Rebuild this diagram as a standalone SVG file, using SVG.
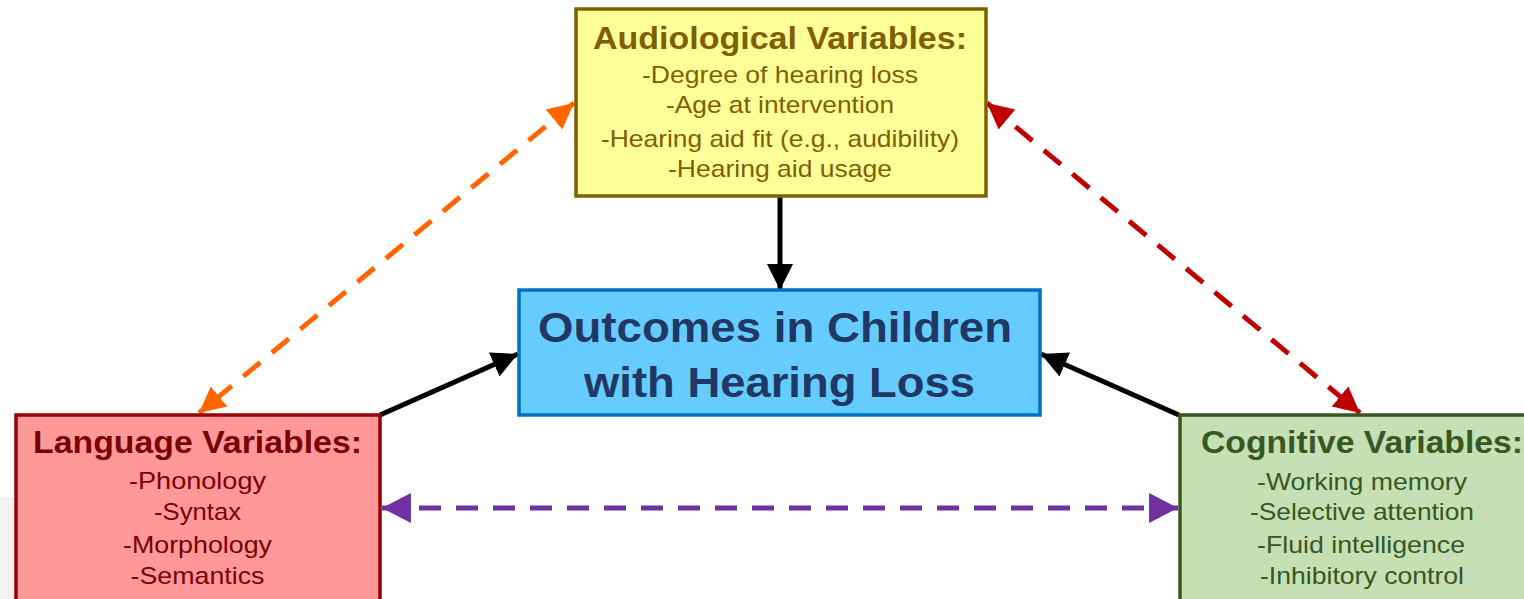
<svg xmlns="http://www.w3.org/2000/svg" width="1524" height="599" viewBox="0 0 1524 599">
<style>
text{font-family:"Liberation Sans",Arial,sans-serif;text-anchor:middle}
.t{font-weight:bold;font-size:31px}
.b{font-size:24px}
.box{stroke-width:3.5}
.ln{fill:none;stroke-width:5}
.d{stroke-dasharray:22 15}
</style>
<defs>
<marker id="ak" markerUnits="userSpaceOnUse" markerWidth="28" markerHeight="28" refX="26" refY="13" orient="auto-start-reverse" viewBox="0 0 28 26"><path d="M0,0 L26,13 L0,26 z" fill="#000"/></marker>
<marker id="ao" markerUnits="userSpaceOnUse" markerWidth="28" markerHeight="28" refX="26" refY="13" orient="auto-start-reverse" viewBox="0 0 28 26"><path d="M0,0 L26,13 L0,26 z" fill="#ff6600"/></marker>
<marker id="ar" markerUnits="userSpaceOnUse" markerWidth="28" markerHeight="28" refX="26" refY="13" orient="auto-start-reverse" viewBox="0 0 28 26"><path d="M0,0 L26,13 L0,26 z" fill="#c00000"/></marker>
<marker id="ap" markerUnits="userSpaceOnUse" markerWidth="30" markerHeight="30" refX="27" refY="14" orient="auto-start-reverse" viewBox="0 0 28 28"><path d="M0,0 L27,14 L0,28 z" fill="#7030a0"/></marker>
</defs>
<rect x="0" y="0" width="1524" height="599" fill="#ffffff"/>
<rect x="0" y="497" width="15" height="102" fill="#f2f2f2"/>

<g id="connectors">
<line class="ln d" x1="574" y1="103" x2="199" y2="413" stroke="#ff6600" marker-start="url(#ao)" marker-end="url(#ao)"/>
<line class="ln d" x1="987" y1="103" x2="1360" y2="413" stroke="#c00000" marker-start="url(#ar)" marker-end="url(#ar)"/>
<line class="ln d" x1="382" y1="508" x2="1178" y2="508" stroke="#7030a0" marker-start="url(#ap)" marker-end="url(#ap)"/>
<line class="ln" x1="780" y1="197" x2="780" y2="290" stroke="#000" marker-end="url(#ak)"/>
<line class="ln" x1="380" y1="415" x2="518" y2="354" stroke="#000" marker-end="url(#ak)"/>
<line class="ln" x1="1179" y1="415" x2="1041" y2="354" stroke="#000" marker-end="url(#ak)"/>
</g>

<g id="audiological">
<rect class="box" x="576" y="9" width="410" height="187" fill="#ffff99" stroke="#7f6000"/>
<g fill="#7f6000">
<text class="t" x="780" y="49" textLength="374" lengthAdjust="spacingAndGlyphs">Audiological Variables:</text>
<text class="b" x="780" y="83" textLength="276" lengthAdjust="spacingAndGlyphs">-Degree of hearing loss</text>
<text class="b" x="780" y="113" textLength="228" lengthAdjust="spacingAndGlyphs">-Age at intervention</text>
<text class="b" x="780" y="147" textLength="358" lengthAdjust="spacingAndGlyphs">-Hearing aid fit (e.g., audibility)</text>
<text class="b" x="780" y="177" textLength="224" lengthAdjust="spacingAndGlyphs">-Hearing aid usage</text>
</g>
</g>

<g id="outcomes">
<rect class="box" x="519" y="290" width="521" height="125" fill="#66ccff" stroke="#0070c0"/>
<g fill="#1f3864" font-weight="bold" font-size="43">
<text x="775" y="342" textLength="474" lengthAdjust="spacingAndGlyphs">Outcomes in Children</text>
<text x="779.5" y="397" textLength="391" lengthAdjust="spacingAndGlyphs">with Hearing Loss</text>
</g>
</g>

<g id="language">
<rect class="box" x="16" y="415" width="364" height="200" fill="#ff9999" stroke="#990000"/>
<g fill="#7b0000">
<text class="t" x="197.5" y="453" textLength="329" lengthAdjust="spacingAndGlyphs">Language Variables:</text>
<text class="b" x="197.5" y="489" textLength="137" lengthAdjust="spacingAndGlyphs">-Phonology</text>
<text class="b" x="197.5" y="520" textLength="87" lengthAdjust="spacingAndGlyphs">-Syntax</text>
<text class="b" x="197.5" y="553" textLength="149" lengthAdjust="spacingAndGlyphs">-Morphology</text>
<text class="b" x="197.5" y="584" textLength="134" lengthAdjust="spacingAndGlyphs">-Semantics</text>
</g>
</g>

<g id="cognitive">
<rect class="box" x="1180" y="415" width="360" height="200" fill="#c5e0b4" stroke="#385723"/>
<g fill="#385723">
<text class="t" x="1362" y="453" textLength="322" lengthAdjust="spacingAndGlyphs">Cognitive Variables:</text>
<text class="b" x="1362" y="490" textLength="210" lengthAdjust="spacingAndGlyphs">-Working memory</text>
<text class="b" x="1362" y="520" textLength="224" lengthAdjust="spacingAndGlyphs">-Selective attention</text>
<text class="b" x="1361" y="553" textLength="208" lengthAdjust="spacingAndGlyphs">-Fluid intelligence</text>
<text class="b" x="1362" y="584" textLength="204" lengthAdjust="spacingAndGlyphs">-Inhibitory control</text>
</g>
</g>
</svg>
